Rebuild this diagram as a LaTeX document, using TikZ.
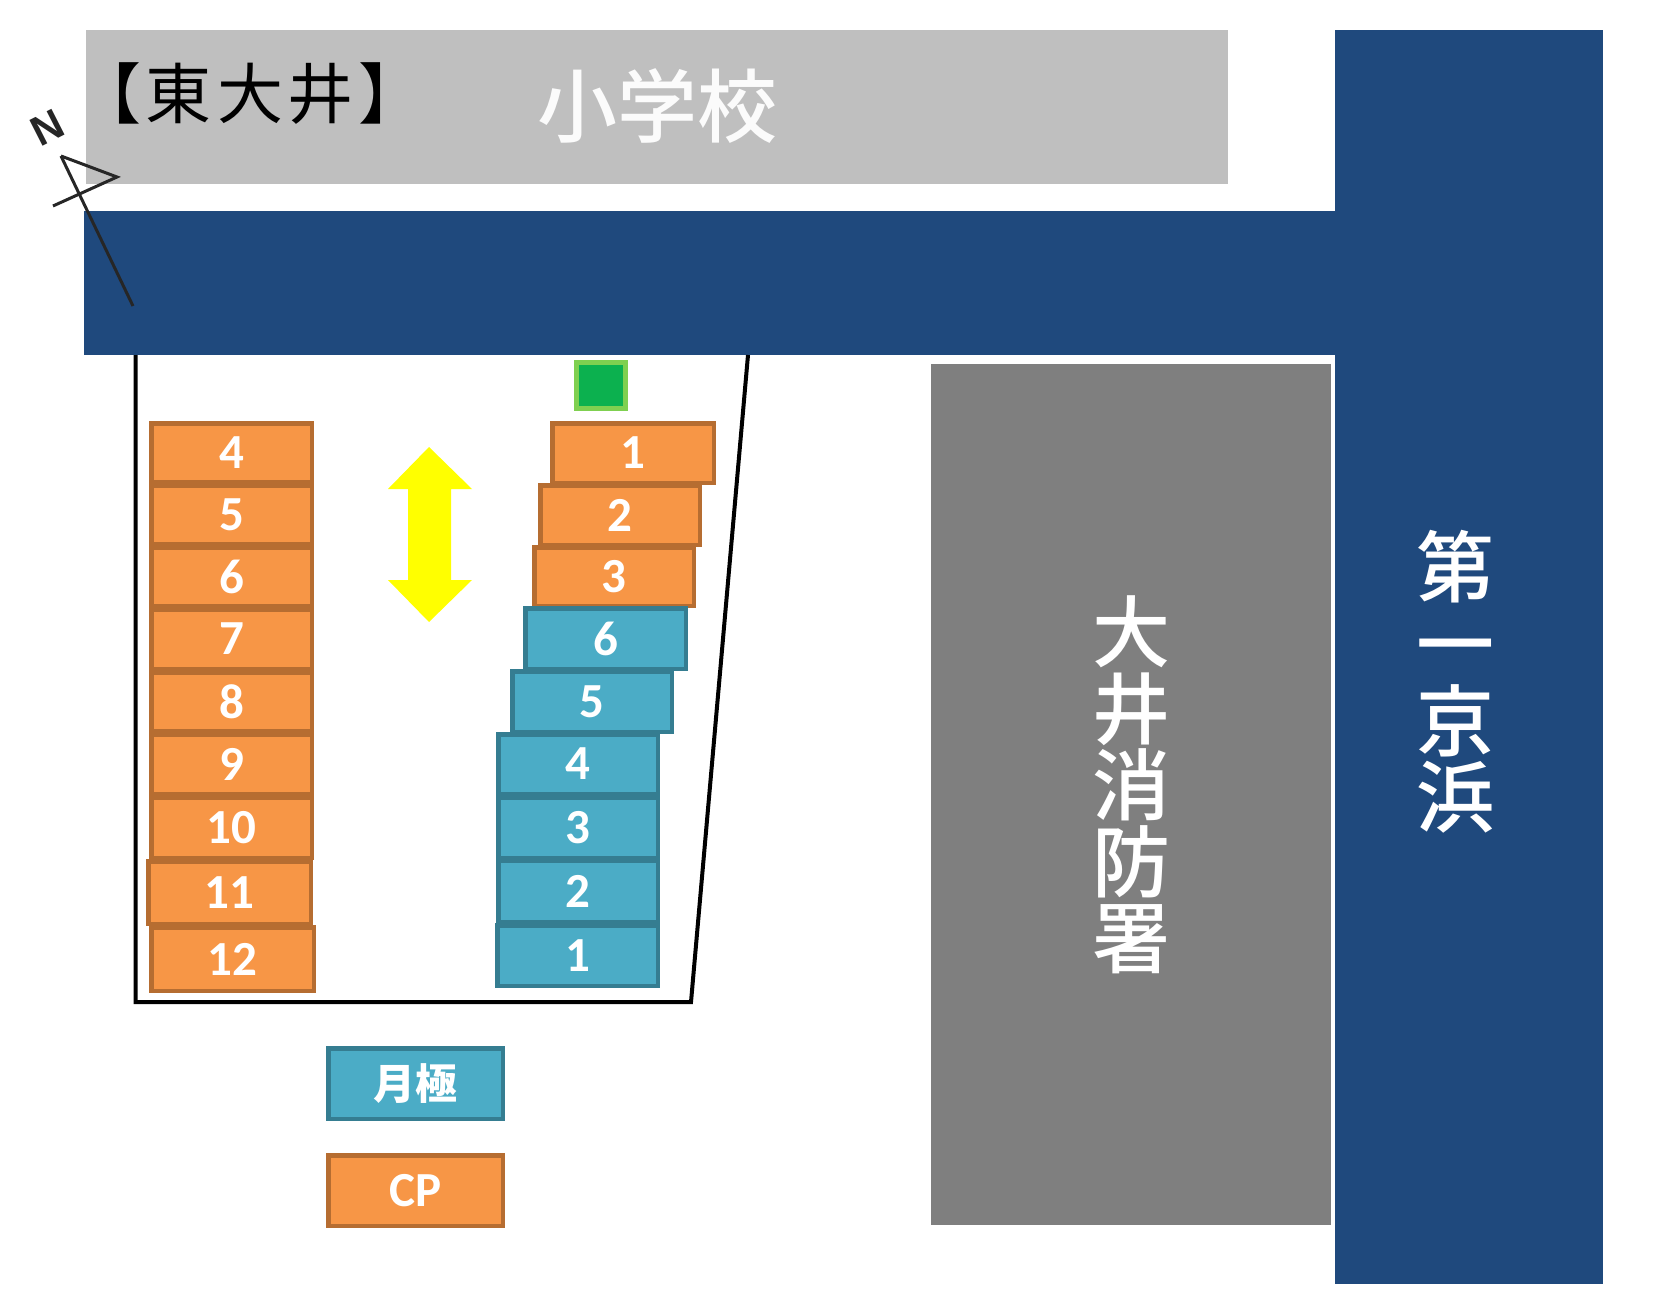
\documentclass[tikz,border=0pt]{standalone}
\usepackage{fontspec}
\newfontfamily\jp[LetterSpace=7.5]{Noto Sans CJK JP}
\newfontfamily\jpm{Noto Sans CJK JP Medium}
\newfontfamily\num{Carlito}
\newfontfamily\lat{Liberation Sans}
\definecolor{road}{HTML}{1F497D}
\definecolor{lightgrey}{HTML}{BFBFBF}
\definecolor{darkgrey}{HTML}{7F7F7F}
\definecolor{cpfill}{HTML}{F79646}
\definecolor{cpline}{HTML}{B66D31}
\definecolor{mfill}{HTML}{4BACC6}
\definecolor{mline}{HTML}{357D91}
\definecolor{gfill}{HTML}{0CB14F}
\definecolor{gline}{HTML}{7FD050}
\definecolor{arrowyellow}{HTML}{FFFF00}
\tikzset{
 cpbox/.style={draw=cpline,fill=cpfill,line width=4.5pt,text=white},
 mbox/.style={draw=mline,fill=mfill,line width=4.5pt,text=white},
 numtext/.style={font=\num\bfseries\fontsize{49}{49}\selectfont},
 vtext/.style={text=white,align=center,font=\jpm\fontsize{78}{76.6}\selectfont,inner sep=0pt},
}
% \slot{name}{style}{x1}{y1}{x2}{y2}{text}: outer box extents in reference pixels
\newcommand{\slot}[7]{%
 \pgfmathsetmacro{\slotw}{#5-#3-4.5}\pgfmathsetmacro{\sloth}{#6-#4-4.5}%
 \node[#2,numtext,inner sep=0pt,minimum width=\slotw pt,minimum height=\sloth pt] (#1) at ({(#3+#5)/2},{(#4+#6)/2}) {\raisebox{-1.5pt}{#7}};}
\begin{document}
\begin{tikzpicture}[x=1pt,y=-1pt]
\useasboundingbox (0,0) rectangle (1668,1316);
\fill[white] (0,0) rectangle (1668,1316);
% buildings and roads
\fill[lightgrey] (86,30) rectangle (1228,184);
\fill[road] (84,211) rectangle (1335,355);
\fill[road] (1335,30) rectangle (1603,1284);
\fill[darkgrey] (931,364) rectangle (1331,1225);
\node[text=black,font=\jp\fontsize{66}{66}\selectfont,inner sep=0pt] (area) at (250,94) {【東大井】};
\node[text=white!94!lightgrey,font=\jpm\fontsize{80}{80}\selectfont,inner sep=0pt] (school) at (657,106) {小学校};
\node[vtext] (fire) at (1131,785) {大\\井\\消\\防\\署};
\node[vtext] (keihin) at (1455,682) {第\\一\\京\\浜};
% lot
\draw[black,line width=4pt,line join=miter] (135.5,355) -- (135.5,1002) -- (691,1002) -- (748,355);
% left column
\slot{a4}{cpbox}{149}{421}{314}{484}{4}
\slot{a5}{cpbox}{149}{483}{314}{546}{5}
\slot{a6}{cpbox}{149}{545}{314}{608}{6}
\slot{a7}{cpbox}{149}{607}{314}{671}{7}
\slot{a8}{cpbox}{149}{670}{314}{733}{8}
\slot{a9}{cpbox}{149}{732}{314}{796}{9}
\slot{a10}{cpbox}{149}{795}{314}{860}{10}
\slot{a11}{cpbox}{146}{859}{313}{926}{11}
\slot{a12}{cpbox}{149}{925}{316}{993}{12}
% right column
\slot{b1}{cpbox}{550}{421}{716}{485}{1}
\slot{b2}{cpbox}{538}{483}{702}{547}{2}
\slot{b3}{cpbox}{532}{545}{696}{608}{3}
\slot{c6}{mbox}{523}{606}{688}{671}{6}
\slot{c5}{mbox}{510}{669}{674}{734}{5}
\slot{c4}{mbox}{496}{732}{660}{796}{4}
\slot{c3}{mbox}{496}{795}{660}{860}{3}
\slot{c2}{mbox}{496}{858}{660}{924}{2}
\slot{c1}{mbox}{495}{923}{660}{988}{1}
% legend
\slot{lm}{mbox}{326}{1046}{505}{1121}{\jpm\fontsize{42}{42}\selectfont 月極}
\slot{lc}{cpbox}{326}{1153}{505}{1228}{CP}
% ticket machine
\node[draw=gline,fill=gfill,line width=5pt,minimum width=49pt,minimum height=46pt,inner sep=0pt] (machine) at (601,385.5) {};
% direction arrow
\fill[arrowyellow] (429,447) -- (472,489) -- (451,489) -- (451,580) -- (472,580) -- (429,622) -- (388,580) -- (408,580) -- (408,489) -- (388,489) -- cycle;
% compass
\draw[black!85,line width=3pt] (61,156) -- (117,177) -- (53,206);
\draw[black!85,line width=3pt] (61,156) -- (133,306);
\node[text=black!85,font=\lat\bfseries\fontsize{42}{42}\selectfont,rotate=27,inner sep=0pt] (north) at (47,128) {N};
\end{tikzpicture}
\end{document}
